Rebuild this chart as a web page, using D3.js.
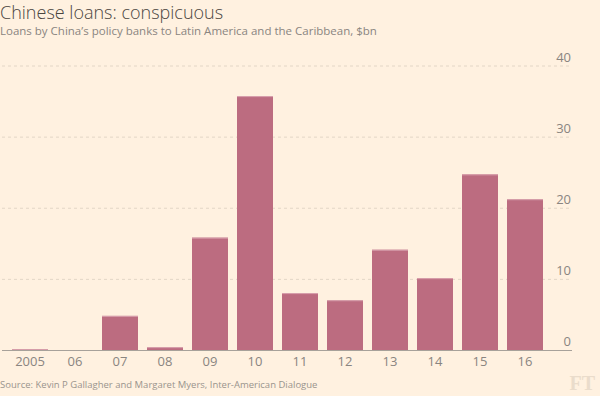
<!DOCTYPE html>
<html>
<head>
<meta charset="utf-8">
<script src="https://cdn.jsdelivr.net/npm/d3@7"></script>
<style>
  html, body { margin: 0; padding: 0; background: #fff1e0; }
  svg { display: block; font-family: "Open Sans", "Liberation Sans", sans-serif; }
</style>
</head>
<body>
<div id="chart"></div>
<script>
// data
var years = ['2005', '06', '07', '08', '09', '10', '11', '12', '13', '14', '15', '16']
var loans = [0.1, 0, 4.8, 0.4, 15.8, 35.7, 8.0, 7.0, 14.1, 10.1, 24.7, 21.2]
var yTicks = [0, 10, 20, 30, 40]

var width = 600
var height = 396

var x = d3.scaleBand()
  .domain(years)
  .range([7.5, 547.5])
  .paddingInner(0.2)
  .paddingOuter(0.1)

var y = d3.scaleLinear()
  .domain([0, 40])
  .range([350, 65.5])

var svg = d3.select('#chart')
  .append('svg')
  .attr('width', width)
  .attr('height', height)

svg.append('rect')
  .attr('width', width)
  .attr('height', height)
  .attr('fill', '#fff1e0')

// titles
svg.append('text')
  .text('Chinese loans: conspicuous')
  .attr('x', 0)
  .attr('y', 19)
  .attr('fill', '#4a4540')
  .attr('font-size', '18px')
  .attr('font-weight', 300)

svg.append('text')
  .text('Loans by China\u2019s policy banks to Latin America and the Caribbean, $bn')
  .attr('x', 0)
  .attr('y', 34.5)
  .attr('fill', '#8a8580')
  .attr('font-size', '11.5px')

// gridlines + y labels
var grid = svg.append('g')
grid.selectAll('line')
  .data(yTicks.filter(d => d > 0))
  .enter()
  .append('line')
  .attr('x1', 2)
  .attr('x2', 572)
  .attr('y1', d => y(d) + 0.5)
  .attr('y2', d => y(d) + 0.5)
  .attr('stroke', '#e3d6c6')
  .attr('stroke-dasharray', '3,3')

grid.selectAll('text')
  .data(yTicks)
  .enter()
  .append('text')
  .text(d => d)
  .attr('x', 571)
  .attr('y', d => y(d) - 4)
  .attr('text-anchor', 'end')
  .attr('fill', '#8a8580')
  .attr('font-size', '13px')

// bars
var bars = svg.append('g')
bars.selectAll('rect')
  .data(loans)
  .enter()
  .append('rect')
  .attr('x', (d, i) => x(years[i]))
  .attr('width', x.bandwidth())
  .attr('y', d => y(d))
  .attr('height', d => y(0) - y(d))
  .attr('fill', '#bc6c80')

// lighter cap on each bar
bars.selectAll('line')
  .data(loans.map((d, i) => ({ year: years[i], value: d })).filter(d => d.value > 0))
  .enter()
  .append('line')
  .attr('x1', d => x(d.year))
  .attr('x2', d => x(d.year) + x.bandwidth())
  .attr('y1', d => y(d.value) + 0.5)
  .attr('y2', d => y(d.value) + 0.5)
  .attr('stroke', '#d9a2ae')
  .attr('stroke-width', 1)

// x axis
svg.append('line')
  .attr('x1', 2)
  .attr('x2', 572)
  .attr('y1', y(0) + 0.5)
  .attr('y2', y(0) + 0.5)
  .attr('stroke', '#a7a19a')

svg.append('g')
  .selectAll('text')
  .data(years)
  .enter()
  .append('text')
  .text(d => d)
  .attr('x', d => x(d) + x.bandwidth() / 2)
  .attr('y', 366)
  .attr('text-anchor', 'middle')
  .attr('fill', '#8a8580')
  .attr('font-size', '13px')

// source
svg.append('text')
  .text('Source: Kevin P Gallagher and Margaret Myers, Inter-American Dialogue')
  .attr('x', 0)
  .attr('y', 388)
  .attr('fill', '#9a948d')
  .attr('font-size', '9.5px')

svg.append('text')
  .text('FT')
  .attr('x', 595)
  .attr('y', 390)
  .attr('text-anchor', 'end')
  .attr('fill', '#eadccb')
  .attr('font-family', '"Liberation Serif", serif')
  .attr('font-weight', 'bold')
  .attr('font-size', '20px')
</script>
</body>
</html>
